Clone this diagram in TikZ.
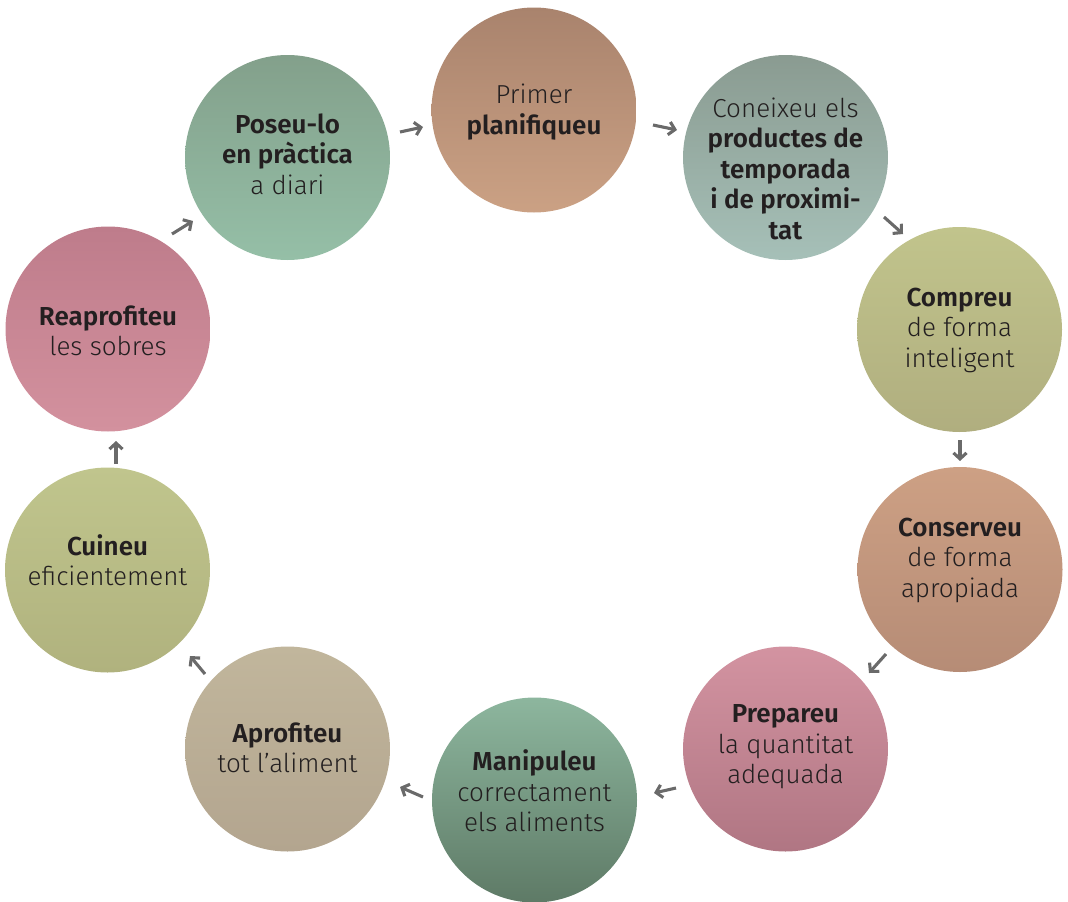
\documentclass[tikz,border=0pt]{standalone}
\usepackage{fontspec}
\setmainfont{Fira Sans}[UprightFont=* Light, BoldFont=* SemiBold]
\usetikzlibrary{arrows.meta}
\definecolor{textdark}{HTML}{231F20}
\definecolor{arrowgray}{HTML}{6A6A6A}
\definecolor{cAt}{HTML}{A9836D}\definecolor{cAb}{HTML}{CBA184}
\definecolor{cBt}{HTML}{8A9B91}\definecolor{cBb}{HTML}{A6C0B8}
\definecolor{cCt}{HTML}{C1C48C}\definecolor{cCb}{HTML}{B0AE7F}
\definecolor{cDt}{HTML}{CDA084}\definecolor{cDb}{HTML}{B68C76}
\definecolor{cEt}{HTML}{D393A1}\definecolor{cEb}{HTML}{B07683}
\definecolor{cFt}{HTML}{8DB69E}\definecolor{cFb}{HTML}{5E7A66}
\definecolor{cGt}{HTML}{C1B69C}\definecolor{cGb}{HTML}{B3A58F}
\definecolor{cHt}{HTML}{C0C58D}\definecolor{cHb}{HTML}{B0B27E}
\definecolor{cIt}{HTML}{BE7C8B}\definecolor{cIb}{HTML}{D3919E}
\definecolor{cJt}{HTML}{83A08B}\definecolor{cJb}{HTML}{95BFA7}
\begin{document}
\begin{tikzpicture}[x=1pt,y=-1pt,
  circ/.style={circle, minimum size=205pt, inner sep=0pt, draw=none},
  txt/.style={align=center, text=textdark, inner sep=0pt,
    font=\fontsize{26}{30.5}\selectfont},
  arr/.style={draw=arrowgray, line width=3.1pt,
    -{Straight Barb[length=6pt,width=13pt]}}]
\useasboundingbox (0,0) rectangle (1068,902);
% circles
\node[circ, top color=cAt, bottom color=cAb] (c1) at (534,110) {};
\node[circ, top color=cBt, bottom color=cBb] (c2) at (785.5,157.5) {};
\node[circ, shading angle=60, top color=cCt, bottom color=cCb] (c3) at (959.5,329.5) {};
\node[circ, shading angle=60, top color=cDt, bottom color=cDb] (c4) at (960,569.5) {};
\node[circ, top color=cEt, bottom color=cEb] (c5) at (785.5,749) {};
\node[circ, top color=cFt, bottom color=cFb] (c6) at (534.5,800) {};
\node[circ, top color=cGt, bottom color=cGb] (c7) at (287.5,749) {};
\node[circ, shading angle=-140, top color=cHt, bottom color=cHb] (c8) at (107.5,570) {};
\node[circ, shading angle=-60, top color=cIt, bottom color=cIb] (c9) at (108,329) {};
\node[circ, top color=cJt, bottom color=cJb] (c10) at (287.5,157.5) {};
% texts
\node[txt] (t1) at (534,112) {Primer\\\textbf{planifiqueu}};
\node[txt] (t2) at (785.5,168.5) {Coneixeu els\\\textbf{productes de}\\\textbf{temporada}\\\textbf{i de proximi-}\\\textbf{tat}};
\node[txt] (t3) at (959.5,330) {\textbf{Compreu}\\de forma\\inteligent};
\node[txt] (t4) at (960,560) {\textbf{Conserveu}\\de forma\\apropiada};
\node[txt] (t5) at (785.5,747) {\textbf{Prepareu}\\la quantitat\\adequada};
\node[txt] (t6) at (534.5,791) {\textbf{Manipuleu}\\correctament\\els aliments};
\node[txt] (t7) at (287.5,748) {\textbf{Aprofiteu}\\tot l’aliment};
\node[txt] (t8) at (107.5,560) {\textbf{Cuineu}\\eficientement};
\node[txt] (t9) at (108,331) {\textbf{Reaprofiteu}\\les sobres};
\node[txt] (t10) at (287.5,154) {\textbf{Poseu-lo}\\\textbf{en pràctica}\\a diari};
% arrow end points
\coordinate (a1s) at (400,132);  \coordinate (a1e) at (423,127);
\coordinate (a2s) at (653,125);  \coordinate (a2e) at (677,130);
\coordinate (a3s) at (884,217);  \coordinate (a3e) at (903,234);
\coordinate (a4s) at (960,440);  \coordinate (a4e) at (960,461);
\coordinate (a5s) at (886,654);  \coordinate (a5e) at (869,673);
\coordinate (a6s) at (676,788);  \coordinate (a6e) at (654,793);
\coordinate (a7s) at (423,797);  \coordinate (a7e) at (400,787);
\coordinate (a8s) at (205,674);  \coordinate (a8e) at (190,656);
\coordinate (a9s) at (116,464);  \coordinate (a9e) at (116,441);
\coordinate (a10s) at (172,234); \coordinate (a10e) at (193,221);
\foreach \i in {1,...,10} {\draw[arr] (a\i s) -- (a\i e);}
\end{tikzpicture}
\end{document}
